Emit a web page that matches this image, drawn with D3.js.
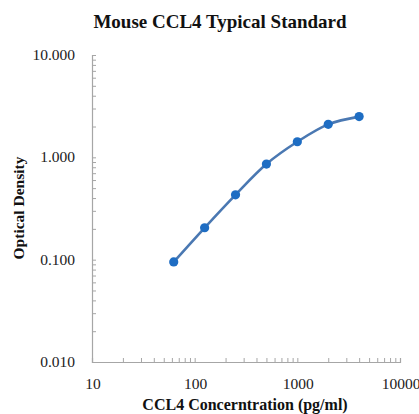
<!DOCTYPE html>
<html><head><meta charset="utf-8">
<script src="https://cdn.jsdelivr.net/npm/d3@7"></script>
<style>body{margin:0;background:#fff}svg{display:block}</style>
</head><body>
<script>
const concentrations = [62.5, 125, 250, 500, 1000, 2000, 4000];
const odValues = [0.095, 0.205, 0.43, 0.86, 1.42, 2.1, 2.5];
const xTickValues = [10, 100, 1000, 10000];
const yTickValues = [0.01, 0.1, 1, 10];
const title = "Mouse CCL4 Typical Standard";
const xTitle = "CCL4 Concerntration (pg/ml)";
const yTitle = "Optical Density";

const W = 419, H = 414;
const svg = d3.select("body").append("svg").attr("width", W).attr("height", H);
const x = d3.scaleLog().domain([10, 10000]).range([92, 400]);
const y = d3.scaleLog().domain([0.01, 10]).range([362, 55]);
const serif = '"Liberation Serif", "Times New Roman", Tinos, "DejaVu Serif", serif';
const axisCol = "#a6a6a6";

// minor ticks
const xMinor = [];
for (let d = 10; d < 10000; d *= 10) for (let k = 2; k <= 10; k++) xMinor.push(d * k);
const yMinor = [];
for (let d = 0.01; d < 9; d *= 10) for (let k = 2; k <= 10; k++) yMinor.push(+(d * k).toPrecision(3));

const xAxis = d3.axisBottom(x).tickValues(xMinor).tickSize(-4).tickFormat("");
const gx = svg.append("g").attr("transform", `translate(0,${y(0.01)})`).call(xAxis);
const yAxis = d3.axisLeft(y).tickValues(yMinor).tickSize(-4).tickFormat("");
const gy = svg.append("g").attr("transform", `translate(${x(10)},0)`).call(yAxis);
[gx, gy].forEach(g => {
  g.select(".domain").attr("stroke", axisCol).attr("stroke-width", 1.2);
  g.selectAll(".tick line").attr("stroke", axisCol).attr("stroke-width", 1);
});

// tick labels
svg.append("g").selectAll("text").data(xTickValues).join("text")
  .attr("x", d => x(d) + 1).attr("y", 389).attr("text-anchor", "middle")
  .style("font-family", serif).attr("font-size", 15.5).attr("fill", "#222")
  .text(d => String(d));
svg.append("g").selectAll("text").data(yTickValues).join("text")
  .attr("x", 75).attr("y", d => y(d) + 5).attr("text-anchor", "end")
  .style("font-family", serif).attr("font-size", 15.5).attr("fill", "#222")
  .text(d => d.toFixed(3));

// titles
svg.append("text").attr("x", 220).attr("y", 28).attr("text-anchor", "middle")
  .style("font-family", serif).attr("font-weight", "bold").attr("font-size", 19).attr("fill", "#111")
  .text(title);
svg.append("text").attr("x", 245).attr("y", 410).attr("text-anchor", "middle")
  .style("font-family", serif).attr("font-weight", "bold").attr("font-size", 16).attr("fill", "#111")
  .text(xTitle);
svg.append("text").attr("transform", "translate(24,208) rotate(-90)").attr("text-anchor", "middle")
  .style("font-family", serif).attr("font-weight", "bold").attr("font-size", 15.5).attr("fill", "#111")
  .text(yTitle);

// curve
const pts = concentrations.map((c, i) => [c, odValues[i]]);
const line = d3.line().x(d => x(d[0])).y(d => y(d[1])).curve(d3.curveCatmullRom.alpha(0.5));
svg.append("path").datum(pts).attr("d", line).attr("fill", "none")
  .attr("stroke", "#4a78b2").attr("stroke-width", 2.6);
svg.append("g").selectAll("circle").data(pts).join("circle")
  .attr("cx", d => x(d[0])).attr("cy", d => y(d[1])).attr("r", 4.6).attr("fill", "#1e6dc3");
</script>
</body></html>
